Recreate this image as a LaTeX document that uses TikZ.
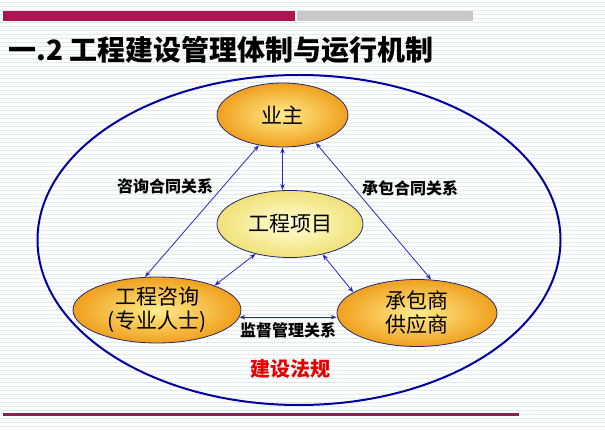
\documentclass[tikz,border=0pt]{standalone}
\usepackage{fontspec}
\newfontfamily\cjk{Noto Sans CJK SC}
\usetikzlibrary{arrows.meta,shapes.geometric}
\definecolor{crimson}{RGB}{172,20,82}
\definecolor{barGray}{RGB}{200,200,200}
\definecolor{bottomLine}{RGB}{140,32,80}
\definecolor{paperLine}{RGB}{222,236,238}
\definecolor{ringBlue}{RGB}{0,0,160}
\definecolor{arrBlue}{RGB}{40,40,190}
\definecolor{nodeEdge}{RGB}{40,40,110}
\definecolor{orIn}{RGB}{255,236,140}
\definecolor{orOut}{RGB}{240,160,30}
\definecolor{yeIn}{RGB}{255,255,215}
\definecolor{yeOut}{RGB}{240,225,120}
\definecolor{lawRed}{RGB}{230,0,0}
\begin{document}
\begin{tikzpicture}[x=1pt,y=-1pt,
  orangenode/.style={ellipse, draw=nodeEdge, line width=0.8pt, inner color=orIn, outer color=orOut, font=\cjk\fontsize{21}{24}\selectfont, align=center},
  yellownode/.style={ellipse, draw=nodeEdge, line width=0.8pt, inner color=yeIn, outer color=yeOut, font=\cjk\fontsize{21}{24}\selectfont, align=center},
  arr/.style={draw=arrBlue, line width=0.8pt, {Stealth[length=6pt,width=4.5pt]}-{Stealth[length=6pt,width=4.5pt]}},
  rel/.style={font=\cjk\bfseries\fontsize{16}{19}\selectfont, inner sep=0pt}]
\useasboundingbox (0,0) rectangle (605,430);
\fill[white] (0,0) rectangle (605,430);
\foreach \yy in {2,6,...,430} \draw[paperLine, line width=0.9pt] (0,\yy) -- (605,\yy);
% top bars
\fill[crimson] (3,11) rectangle (295,21);
\fill[barGray] (297,11) rectangle (473,21);
% title
\node[anchor=base west, inner sep=0pt, font=\cjk\bfseries\fontsize{28}{32}\selectfont] (title) at (8,61) {一.2 工程建设管理体制与运行机制};
% big ellipse
\draw[ringBlue, line width=2pt] (299,240) ellipse [x radius=261.5, y radius=165];
% nodes
\node[orangenode, minimum width=131, minimum height=64, inner sep=0pt] (yz) at (282.5,115) {业主};
\node[yellownode, minimum width=146, minimum height=67, inner sep=0pt] (xm) at (290,224) {工程项目};
\node[orangenode, minimum width=168, minimum height=66, inner sep=0pt] (zx) at (157,310) {工程咨询\\(专业人士)};
\node[orangenode, minimum width=160, minimum height=67, inner sep=0pt] (cb) at (417,313) {承包商\\供应商};
% connectors
\draw[arr] (yz.south) -- (yz.south |- xm.north);
\draw[arr] (yz.232) -- (zx.110);
\draw[arr] (yz.-40) -- (cb.67);
\draw[arr] (xm.221) -- (zx.23);
\draw[arr] (xm.-43) -- (cb.162);
\draw[arr] (zx.-5) -- (zx.-5 -| cb.west);
% labels
\node[rel] (l1) at (165,186) {咨询合同关系};
\node[rel] (l2) at (410,188) {承包合同关系};
\node[rel] (l3) at (288,330) {监督管理关系};
\node[font=\cjk\bfseries\fontsize{20}{23}\selectfont, text=lawRed, inner sep=0pt] (law) at (290,369) {建设法规};
% bottom line
\fill[bottomLine] (3,412.5) rectangle (519,415.5);
\end{tikzpicture}
\end{document}
